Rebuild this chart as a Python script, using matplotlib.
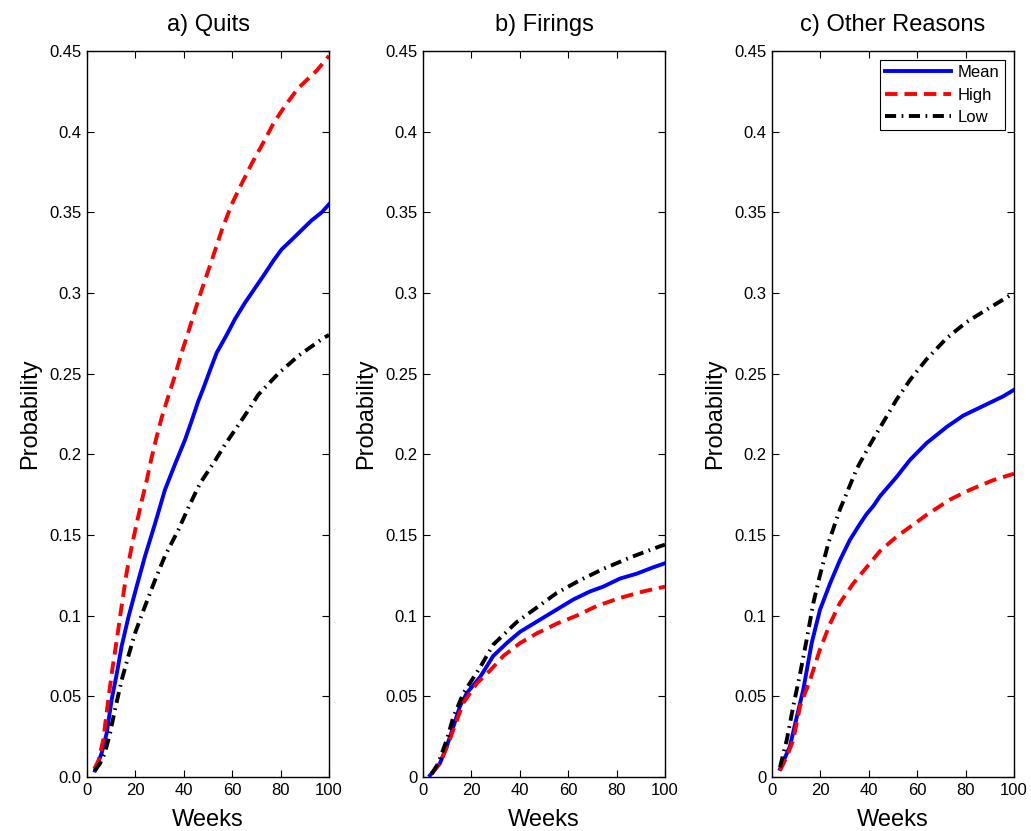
import matplotlib
matplotlib.use("Agg")
import matplotlib.pyplot as plt

plt.rcParams['font.family'] = ['Liberation Sans', 'DejaVu Sans']
plt.rcParams['lines.scale_dashes'] = False

# Cumulative probability of leaving, by week, for each reason
# a) Quits
quits_mean_w = [3.3, 6.1, 8.1, 10.2, 12.3, 14.3, 17.1, 20.5, 24, 28.1, 32.2, 36.4, 40.5, 43.3, 46,
                48.1, 50.8, 53.6, 57.7, 61.2, 65.3, 69.4, 73.5, 77, 80.4, 84.6, 88.7, 92.8, 97, 100]
quits_mean = [0.004, 0.015, 0.027, 0.048, 0.064, 0.081, 0.099, 0.118, 0.137, 0.157, 0.178, 0.194, 0.209, 0.221, 0.233,
              0.241, 0.252, 0.263, 0.274, 0.284, 0.294, 0.303, 0.312, 0.320, 0.327, 0.333, 0.339, 0.345, 0.350, 0.355]
quits_high_w = [3, 4.7, 6.7, 8.8, 10.2, 12.3, 14.3, 16.4, 18.5, 20.5, 22.6, 24.7, 26.7, 28.8, 30.9, 33.6,
                36.4, 39.1, 41.9, 44.6, 47.4, 51.5, 55.7, 59.8, 64, 68, 73.5, 77, 81.8, 87.3, 95, 100]
quits_high = [0.005, 0.010, 0.023, 0.048, 0.064, 0.085, 0.106, 0.127, 0.143, 0.157, 0.171, 0.184, 0.198, 0.211, 0.223, 0.236,
              0.249, 0.263, 0.276, 0.289, 0.302, 0.320, 0.339, 0.355, 0.368, 0.380, 0.395, 0.405, 0.416, 0.427, 0.438, 0.447]
quits_low_w = [3.3, 5.4, 7.4, 9.5, 11.6, 14.3, 17.1, 19.8, 24, 28.1, 32.2, 37.7, 41.9, 46.7, 52.9,
               57, 62.5, 67.4, 70.8, 79, 87.3, 97.6, 100]
quits_low = [0.004, 0.0085, 0.015, 0.027, 0.042, 0.060, 0.075, 0.089, 0.106, 0.122, 0.137, 0.153, 0.167, 0.182, 0.196,
             0.206, 0.218, 0.229, 0.237, 0.250, 0.261, 0.272, 0.274]

# b) Firings
fire_mean_w = [2.9, 7, 9.8, 12.5, 15.3, 18.1, 23.6, 29, 34.6, 40.1, 45.6, 51.1, 56.6, 62.1, 69,
               74.5, 81.4, 88.3, 95.2, 100]
fire_mean = [0.001, 0.0085, 0.019, 0.031, 0.044, 0.052, 0.062, 0.075, 0.083, 0.090, 0.095, 0.100, 0.105, 0.110, 0.115,
             0.118, 0.123, 0.126, 0.130, 0.1325]
fire_high_w = [3.6, 7, 10.5, 13.9, 16.7, 22.2, 27.7, 33.2, 40.1, 47, 55.2, 63.5, 71.8, 81.4, 91, 100]
fire_high = [0.002, 0.0085, 0.021, 0.035, 0.046, 0.058, 0.066, 0.075, 0.083, 0.089, 0.095, 0.100, 0.106, 0.111, 0.115, 0.118]
fire_low_w = [3.6, 6.3, 9.8, 12.5, 16.7, 23.6, 29, 38.7, 47, 55.2, 64.9, 74.5, 85.5, 97.9, 100]
fire_low = [0.002, 0.0085, 0.023, 0.037, 0.052, 0.068, 0.082, 0.096, 0.105, 0.114, 0.122, 0.129, 0.136, 0.143, 0.144]

# c) Other reasons
other_mean_w = [3.3, 7.4, 10.2, 12.9, 16.4, 19.8, 24, 28.1, 32.2, 36.4, 39.1, 41.9, 44.6, 51.5,
                57, 63.9, 72.2, 79, 87.3, 95.6, 100]
other_mean = [0.005, 0.019, 0.037, 0.054, 0.083, 0.1035, 0.120, 0.1345, 0.147, 0.157, 0.163, 0.168, 0.174, 0.186,
              0.1965, 0.207, 0.217, 0.224, 0.230, 0.236, 0.240]
other_high_w = [3.3, 6.1, 8.8, 11.6, 15.7, 19.8, 24, 28.1, 33.6, 39.1, 44.6, 51.5, 59.8, 63.9, 73.6, 81.8, 91.4, 100]
other_high = [0.004, 0.0126, 0.023, 0.044, 0.060, 0.079, 0.095, 0.108, 0.120, 0.130, 0.140, 0.149, 0.158, 0.1625,
              0.172, 0.178, 0.184, 0.188]
other_low_w = [3.3, 6.1, 8.8, 11.6, 14.3, 17.1, 19.8, 23.3, 28.1, 30.9, 35, 40.5, 46, 51.5, 57,
               63.9, 72.2, 80.4, 90.1, 100]
other_low = [0.006, 0.023, 0.044, 0.064, 0.085, 0.108, 0.125, 0.145, 0.166, 0.176, 0.191, 0.206, 0.220, 0.234, 0.246,
             0.259, 0.272, 0.282, 0.291, 0.300]

titles = ['a) Quits', 'b) Firings', 'c) Other Reasons']
y_ticks = [0, 0.05, 0.1, 0.15, 0.2, 0.25, 0.3, 0.35, 0.4, 0.45]
y_ticklabels = ['0', '0.05', '0.1', '0.15', '0.2', '0.25', '0.3', '0.35', '0.4', '0.45']
x_ticks = [0, 20, 40, 60, 80, 100]

panels = [
    (quits_mean_w, quits_mean, quits_high_w, quits_high, quits_low_w, quits_low),
    (fire_mean_w, fire_mean, fire_high_w, fire_high, fire_low_w, fire_low),
    (other_mean_w, other_mean, other_high_w, other_high, other_low_w, other_low),
]

fig = plt.figure(figsize=(10.31, 8.31), dpi=100)
lefts = [0.0844, 0.4103, 0.7488]

for i, (mw, m, hw, h, lw_, l) in enumerate(panels):
    ax = fig.add_axes([lefts[i], 0.065, 0.2347, 0.8736])
    ax.plot(mw, m, color='blue', lw=2.8, label='Mean')
    ax.plot(hw, h, color='red', lw=2.8, dashes=(9, 5), label='High')
    ax.plot(lw_, l, color='black', lw=2.8, dashes=(8, 4, 1.2, 4), label='Low')

    ax.set_xlim(0, 100)
    ax.set_ylim(0, 0.45)
    ax.set_xticks(x_ticks)
    ax.set_yticks(y_ticks)
    labels = list(y_ticklabels)
    if i == 0:
        labels[0] = '0.0'
    ax.set_yticklabels(labels)
    ax.tick_params(direction='in', top=True, right=True, length=5, width=0.8,
                   labelsize=12, pad=4)
    for s in ax.spines.values():
        s.set_linewidth(1.0)

    ax.set_title(titles[i], fontsize=17, pad=14.5)
    ax.set_xlabel('Weeks', fontsize=17, labelpad=8)
    ax.set_ylabel('Probability', fontsize=17, labelpad=6)

    if i == 2:
        leg = ax.legend(loc='upper right', fontsize=12, fancybox=False, framealpha=1,
                        edgecolor='black', borderaxespad=0.55, handlelength=4.0,
                        handletextpad=0.4, labelspacing=0.45, borderpad=0.3)
        leg.get_frame().set_linewidth(0.8)

fig.savefig('out.png', dpi=100)
